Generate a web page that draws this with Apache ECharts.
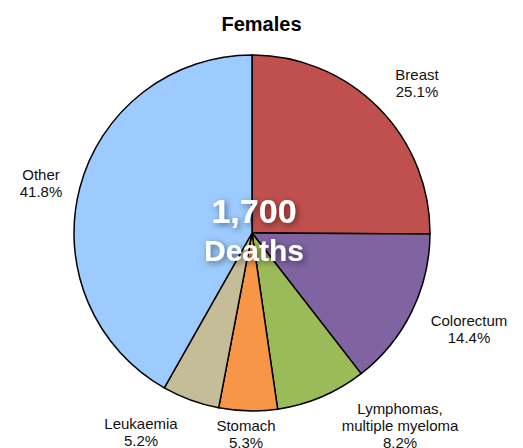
<!DOCTYPE html>
<html>
<head>
<meta charset="utf-8">
<script src="https://cdn.jsdelivr.net/npm/echarts@6/dist/echarts.min.js"></script>
<style>
  html, body { margin: 0; padding: 0; background: #fff; }
  #chart { width: 523px; height: 448px; }
</style>
</head>
<body>
<div id="chart"></div>
<script>
(function() {
  var categories = ['Breast', 'Colorectum', 'Lymphomas,\nmultiple myeloma', 'Stomach', 'Leukaemia', 'Other'];
  var shares = [25.1, 14.4, 8.2, 5.3, 5.2, 41.8];
  var colors = ['#C0504D', '#8064A2', '#9BBB59', '#F79646', '#C4BD97', '#9DCBFF'];
  var totalDeaths = '1,700';

  // where each label sits (label centre, px)
  var labelPos = [[417, 83], [469, 329], [400, 425], [246, 434], [141, 432], [41, 183]];

  var shadow = {
    fill: '#fff',
    fontFamily: 'Liberation Sans, Arial',
    fontWeight: 'bold',
    textShadowColor: 'rgba(0,0,0,0.5)',
    textShadowBlur: 6,
    textShadowOffsetX: 2,
    textShadowOffsetY: 2
  };

  var chart = echarts.init(document.getElementById('chart'), null, { renderer: 'svg' });
  chart.setOption({
    animation: false,
    title: {
      text: 'Females',
      left: 'center',
      top: 9,
      textStyle: { fontFamily: 'Liberation Sans, Arial', fontSize: 20, fontWeight: 'bold', color: '#000' }
    },
    graphic: [{
      type: 'text',
      x: 254,
      y: 192,
      style: {
        text: '{a|' + totalDeaths + '}\n{b|Deaths}',
        textAlign: 'center',
        fill: '#fff',
        rich: {
          a: Object.assign({ fontSize: 34, lineHeight: 38 }, shadow),
          b: Object.assign({ fontSize: 30, lineHeight: 40 }, shadow)
        }
      },
      z: 100
    }],
    series: [{
      type: 'pie',
      center: [252, 233],
      radius: 178,
      startAngle: 90,
      clockwise: true,
      silent: true,
      data: categories.map(function(c, i) {
        return { name: c, value: shares[i], itemStyle: { color: colors[i] } };
      }),
      itemStyle: { borderColor: '#000', borderWidth: 1.5 },
      label: {
        show: true,
        position: 'inside',
        formatter: function(p) { return p.name + '\n' + p.value.toFixed(1) + '%'; },
        fontFamily: 'Liberation Sans, Arial',
        fontSize: 15,
        lineHeight: 17,
        color: '#111',
        align: 'center',
        overflow: 'none'
      },
      labelLine: { show: false },
      labelLayout: function(params) {
        var p = labelPos[params.dataIndex];
        return { x: p[0], y: p[1], align: 'center', verticalAlign: 'middle' };
      }
    }]
  });
})();
</script>
</body>
</html>
